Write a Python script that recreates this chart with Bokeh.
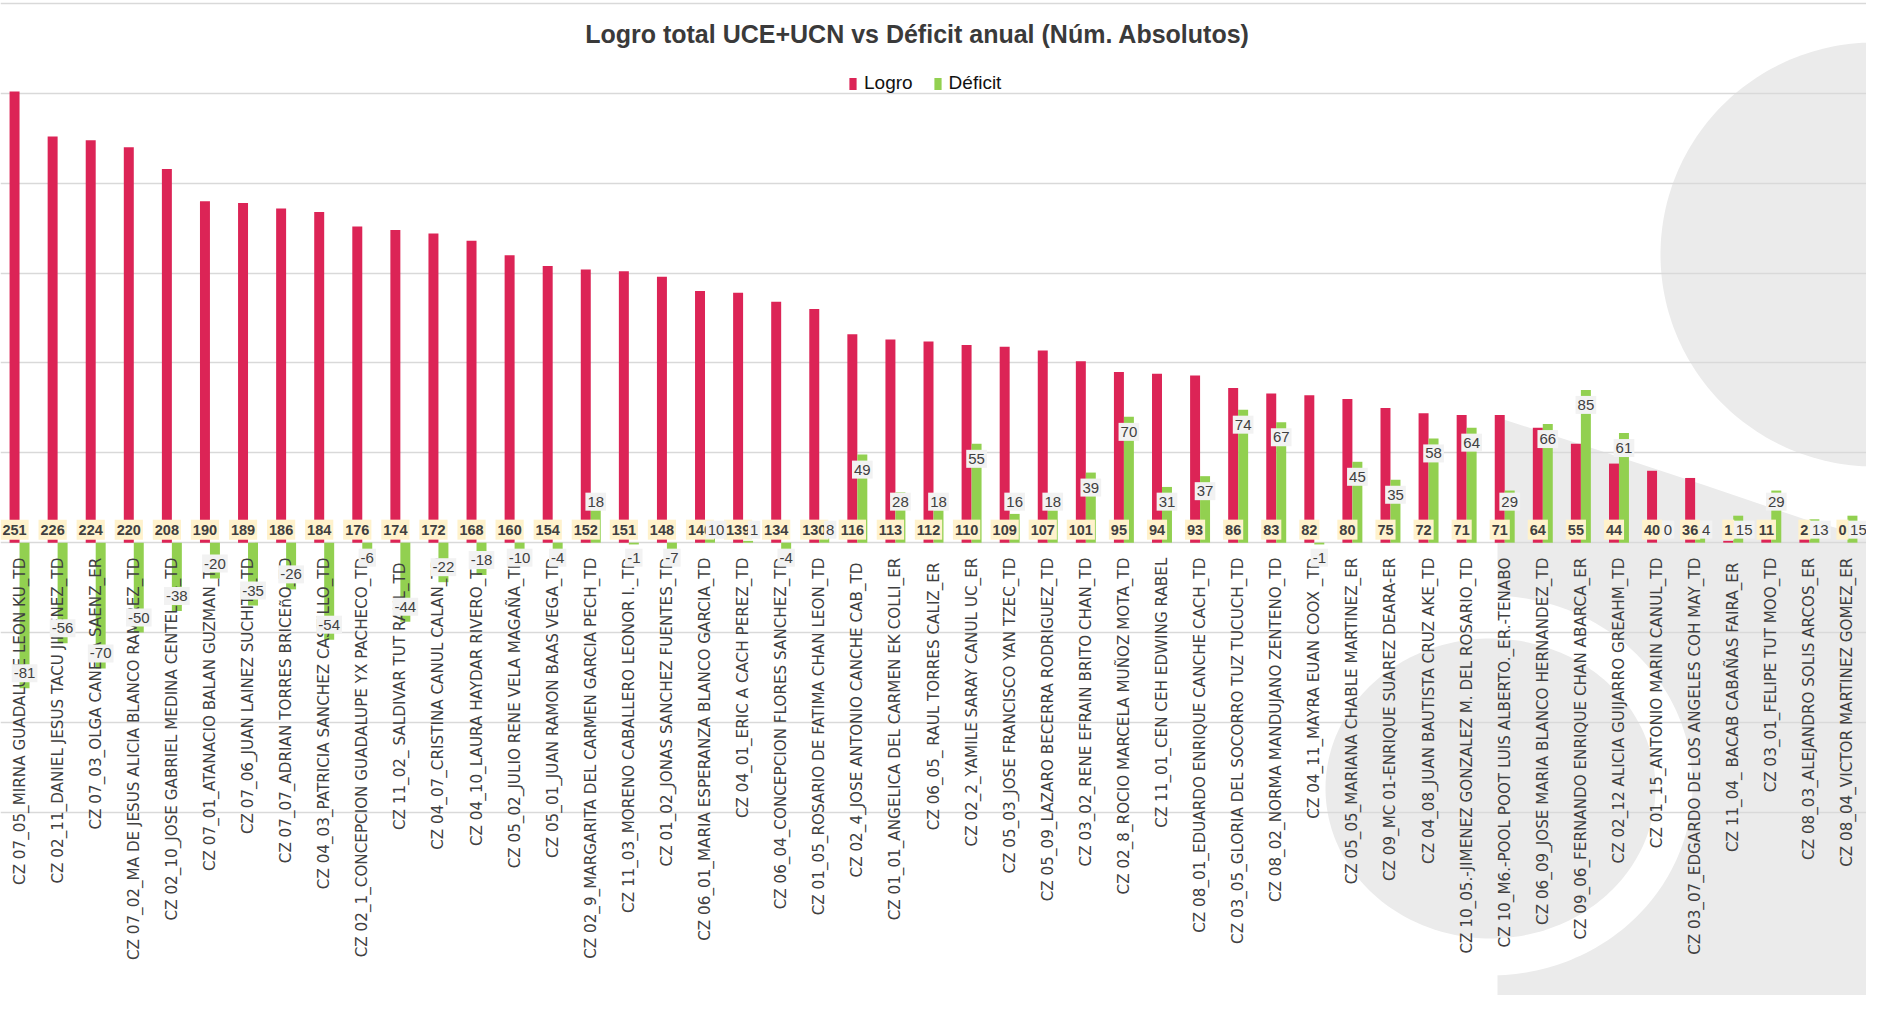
import numpy as np
from bokeh.plotting import figure
from bokeh.models import (Range1d, FixedTicker, Legend, LegendItem,
                          Label, ColumnDataSource)
from bokeh.transform import dodge
from bokeh.core.properties import value
from bokeh.embed import file_html
from bokeh.resources import INLINE

categories = [
    "CZ 07_05_MIRNA GUADALUPE LEON KU_TD",
    "CZ 02_11_DANIEL JESUS TACU JIMENEZ_TD",
    "CZ 07_03_OLGA CANEPA SAENZ_ER",
    "CZ 07_02_MA DE JESUS ALICIA BLANCO RAMIREZ_TD",
    "CZ 02_10_JOSE GABRIEL MEDINA CENTELLA_TD",
    "CZ 07_01_ATANACIO BALAN GUZMAN_TD",
    "CZ 07_06_JUAN LAINEZ SUCHITE_TD",
    "CZ 07_07_ADRIAN TORRES BRICEñO_TD",
    "CZ 04_03_PATRICIA SANCHEZ CASTILLO_TD",
    "CZ 02_1_CONCEPCION GUADALUPE YX PACHECO_TD",
    "CZ 11_02_  SALDIVAR TUT RAUL_TD",
    "CZ 04_07_CRISTINA CANUL CALAN_TD",
    "CZ 04_10_LAURA HAYDAR RIVERO_TD",
    "CZ 05_02_JULIO RENE VELA MAGAÑA_TD",
    "CZ 05_01_JUAN RAMON BAAS VEGA_TD",
    "CZ 02_9_MARGARITA DEL CARMEN GARCIA PECH_TD",
    "CZ 11_03_MORENO CABALLERO LEONOR I._TD",
    "CZ 01_02_JONAS SANCHEZ FUENTES_TD",
    "CZ 06_01_MARIA ESPERANZA BLANCO GARCIA_TD",
    "CZ 04_01_ERIC A CACH PEREZ_TD",
    "CZ 06_04_CONCEPCION FLORES SANCHEZ_TD",
    "CZ 01_05_ROSARIO DE FATIMA CHAN LEON_TD",
    "CZ 02_4_JOSE  ANTONIO CANCHE CAB_TD",
    "CZ 01_01_ANGELICA DEL CARMEN EK COLLI_ER",
    "CZ 06_05_  RAUL TORRES CALIZ_ER",
    "CZ 02_2_YAMILE SARAY CANUL UC_ER",
    "CZ 05_03_JOSE FRANCISCO YAN TZEC_TD",
    "CZ 05_09_LAZARO BECERRA RODRIGUEZ_TD",
    "CZ 03_02_RENE EFRAIN BRITO CHAN_TD",
    "CZ 02_8_ROCIO MARCELA MUÑOZ MOTA_TD",
    "CZ 11_01_CEN CEH EDWING RABEL",
    "CZ 08_01_EDUARDO ENRIQUE CANCHE CACH_TD",
    "CZ 03_05_GLORIA DEL SOCORRO TUZ TUCUCH_TD",
    "CZ 08_02_NORMA MANDUJANO ZENTENO_TD",
    "CZ 04_11_MAYRA EUAN COOX _TD",
    "CZ 05_05_MARIANA CHABLE MARTINEZ_ER",
    "CZ 09_MC 01-ENRIQUE SUAREZ DEARA-ER",
    "CZ 04_08_JUAN BAUTISTA CRUZ AKE_TD",
    "CZ 10_05.-JIMENEZ GONZALEZ M. DEL ROSARIO_TD",
    "CZ 10_M6.-POOL POOT LUIS ALBERTO._ER.-TENABO",
    "CZ 06_09_JOSE MARIA BLANCO HERNANDEZ_TD",
    "CZ 09_06_FERNANDO ENRIQUE CHAN ABARCA_ER",
    "CZ 02_12 ALICIA GUIJARRO GREAHM_TD",
    "CZ 01_15_ANTONIO MARIN CANUL_TD",
    "CZ 03_07_EDGARDO DE LOS ANGELES COH MAY_TD",
    "CZ 11_04_  BACAB CABAÑAS FAIRA_ER",
    "CZ 03_01_FELIPE TUT MOO_TD",
    "CZ 08_03_ALEJANDRO SOLIS ARCOS_ER",
    "CZ 08_04_VICTOR MARTINEZ GOMEZ_ER",
]

logro = [251, 226, 224, 220, 208, 190, 189, 186, 184, 176, 174, 172, 168, 160,
         154, 152, 151, 148, 140, 139, 134, 130, 116, 113, 112, 110, 109, 107,
         101, 95, 94, 93, 86, 83, 82, 80, 75, 72, 71, 71, 64, 55, 44, 40, 36,
         1, 11, 2, 0]

deficit = [-81, -56, -70, -50, -38, -20, -35, -26, -54, -6, -44, -22, -18, -10,
           -4, 18, -1, -7, 10, 1, -4, 8, 49, 28, 18, 55, 16, 18, 39, 70, 31, 37,
           74, 67, -1, 45, 35, 58, 64, 29, 66, 85, 61, 0, 4, 15, 29, 13, 15]

series_names = ["Logro", "Déficit"]
series_colors = ["#DC2456", "#92D050"]
title_text = "Logro total UCE+UCN vs Déficit anual (Núm. Absolutos)"
grid_ticks = [-150, -100, -50, 0, 50, 100, 150, 200, 250, 300]

# ---------------------------------------------------------------- layout
W, H = 1866, 995
N = len(categories)
Y0, Y1 = -252.0, 301.7
PX = (Y1 - Y0) / H          # data units per screen pixel
XPX = N / W                 # x units per screen pixel
SANS = "Liberation Sans"
TXT = "#404040"
GRAY = "#EBEBEB"

p = figure(width=W, height=H,
           x_range=Range1d(0, N), y_range=Range1d(Y0, Y1),
           output_backend="svg", toolbar_location=None,
           min_border=0, outline_line_color=None)
p.background_fill_color = "white"
p.xaxis.visible = False
p.yaxis.visible = False
p.xgrid.visible = False
p.ygrid.ticker = FixedTicker(ticks=grid_ticks)
p.ygrid.grid_line_color = "#D9D9D9"
p.ygrid.grid_line_width = 1.3

# ---------------------------------------------------------------- decorative background (template shapes)
p.extra_x_ranges = {"px": Range1d(8, 8 + W)}
p.extra_y_ranges = {"py": Range1d(8, 8 + H)}


def ell(cx, cy, rx, ry, n=240):
    t = np.linspace(0, 2 * np.pi, n)
    return list(cx + rx * np.cos(t)), list(1011 - (cy + ry * np.sin(t)))


def deco(xs, ys, color):
    p.patch(xs, ys, x_range_name="px", y_range_name="py", fill_color=color,
            line_color=None, level="image")


bx, by = ell(1882, 262, 214, 212)
deco(bx, by, GRAY)
band_x = [1505, 1607, 1713, 1813, 1890, 1890, 1505]
band_y = [1011 - v for v in [425, 458, 493, 527, 548, 1020, 1020]]
deco(band_x, band_y, GRAY)
wx, wy = ell(1498, 793, 202, 190)
deco(wx, wy, "white")
ix, iy = ell(1498, 796, 165, 150)
deco(ix, iy, GRAY)

# ---------------------------------------------------------------- data
OFF = 0.131
BW = 0.262
xc = [i + 0.5 for i in range(N)]

def_y, def_x = [], []
for i, v in enumerate(deficit):
    if v >= 16:
        def_y.append(max(v - 15 * PX, 41 * PX))
        def_x.append(xc[i] + OFF)
    elif v >= 0:
        def_y.append(13 * PX)
        def_x.append(xc[i] + OFF + 6 * XPX)
    else:
        def_y.append(min(v + 15 * PX, -15 * PX))
        def_x.append(xc[i] + OFF)

src = ColumnDataSource(dict(
    xc=xc, cat=categories, logro=logro, deficit=deficit,
    logro_txt=[str(v) for v in logro], def_txt=[str(v) for v in deficit],
    logro_y=[13 * PX] * N, def_y=def_y, def_x=def_x,
))

r1 = p.vbar(x=dodge("xc", -OFF), top="logro", width=BW,
            source=src, fill_color=series_colors[0], line_color=None)
r2 = p.vbar(x=dodge("xc", OFF), top="deficit", width=BW,
            source=src, fill_color=series_colors[1], line_color=None)

# category labels, next to the zero line
p.text(x="xc", y=-15 * PX, text="cat", source=src, angle=np.pi / 2,
       text_align="right", text_baseline="middle",
       text_font=value("DejaVu Sans"), text_font_size="15.2px", text_color=TXT)

# data labels
p.text(x=dodge("xc", -OFF), y="logro_y", text="logro_txt",
       source=src, text_align="center", text_baseline="middle",
       text_font=value(SANS), text_font_style="bold", text_font_size="14.5px",
       text_color=TXT, background_fill_color="#FFF2CC", padding=dict(x=2, y=5))
p.text(x="def_x", y="def_y", text="def_txt",
       source=src, text_align="center", text_baseline="middle",
       text_font=value(SANS), text_font_size="15px",
       text_color=TXT, background_fill_color="#F2F2F2", padding=dict(x=2, y=4))

# title inside the frame
p.add_layout(Label(x=917, y=962, x_units="screen", y_units="screen",
                   text=title_text, text_align="center", text_baseline="middle",
                   text_font=SANS, text_font_style="bold",
                   text_font_size="25px", text_color="#3A3A3A"))

legend = Legend(items=[LegendItem(label=series_names[0], renderers=[r1]),
                       LegendItem(label=series_names[1], renderers=[r2])],
                orientation="horizontal", location=(848, 901),
                glyph_width=9, glyph_height=15, label_standoff=7, spacing=20,
                padding=0, margin=0, border_line_color=None,
                background_fill_alpha=0, label_text_font=SANS,
                label_text_font_size="19px", label_text_color="#111111")
p.add_layout(legend)

open("out.html", "w").write(file_html(p, INLINE))
